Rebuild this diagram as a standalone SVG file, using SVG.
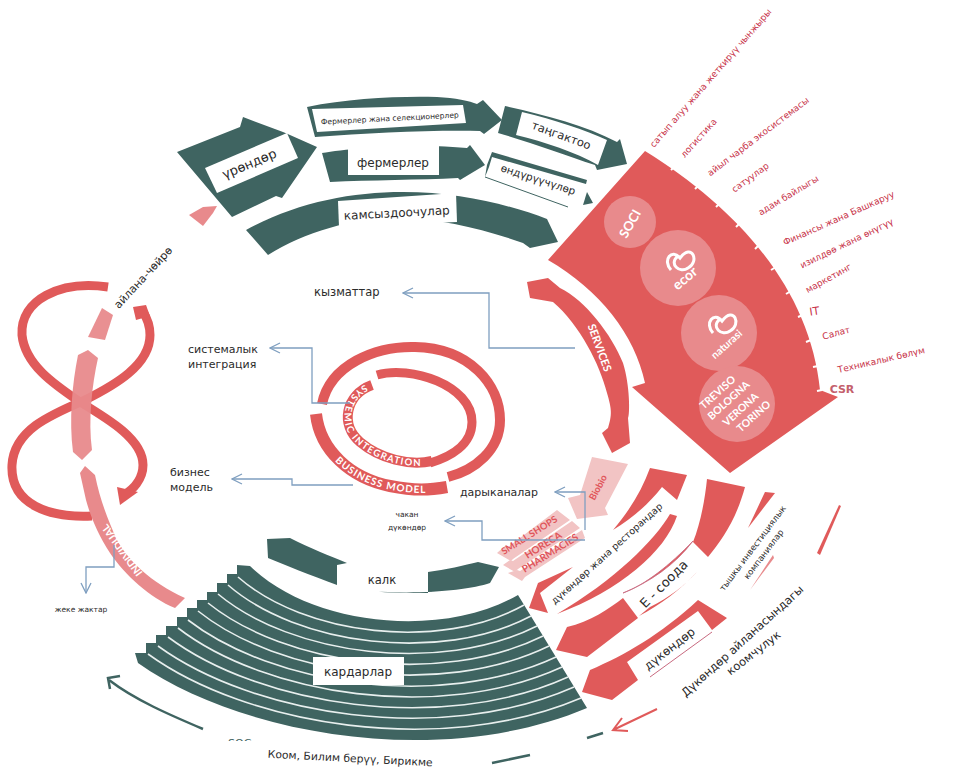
<svg xmlns="http://www.w3.org/2000/svg" width="956" height="774" viewBox="0 0 956 774">
<style>
text{font-family:"DejaVu Sans","Noto Sans",sans-serif;fill:#2b2b2b}
.d{fill:#3f6461}.r{fill:#e05a5a}.l{fill:#e88a8c}.p{fill:#f2c4c4}.w{fill:#fff}
.m{text-anchor:middle}
.rt{font-size:9px;fill:#c8344a;text-anchor:middle}
.wt{fill:#fff;font-family:"Lato","Liberation Sans",sans-serif;font-weight:700;text-anchor:middle}
.pt{fill:#e0555a;font-family:"Lato","Liberation Sans",sans-serif;font-weight:700;text-anchor:middle}
.bl{fill:none;stroke:#7f9fc0;stroke-width:1.3}
.sep{fill:none;stroke:#e8efee;stroke-width:1.6}
.ring{fill:none;stroke:#e05a5a}
.logo{fill:none;stroke:#fff;stroke-width:3}
</style>
<defs>
<marker id="oa" viewBox="0 0 12 12" refX="11" refY="6" markerWidth="12" markerHeight="12" markerUnits="userSpaceOnUse" orient="auto"><path d="M1,1 L11,6 L1,11" fill="none" stroke="#7f9fc0" stroke-width="1.3"/></marker>
</defs>
<rect width="956" height="774" fill="#fff"/>

<g id="node-seeds">
<path class="l" d="M189,215 L203,207 L217,206 L213,213 L203,226 Z"/>
<path class="d" d="M177,152 L240,127 L243,117 L283,132 L290,135 L317,147 L282,198 L276,196 L232,217 Z"/>
<path class="w" d="M205,168 L287,133 L298,158 L217,193 Z"/>
<text class="m" font-size="13" transform="translate(251,168) rotate(-23)">үрөндөр</text>
</g>
<g id="node-farmers-breeders">
<path class="d" d="M307,107 C350,98 400,96 437,97 C455,98 470,101 477,104 L483,100 L502,120 L484,134 L480,131 C430,130 370,133 315,137 Z"/>
<path class="w" d="M312,109 L463,105 L466,123 L317,132 Z"/>
<text class="m" font-size="7.6" transform="translate(390,121) rotate(-3)">Фермерлер жана селекционерлер</text>
</g>
<g id="node-packaging">
<path class="d" d="M505,106 C545,115 585,125 617,142 L620,139 L627,164 L597,170 L595,165 C565,155 530,142 498,133 Z"/>
<path class="w" d="M522,112 C555,120 585,130 607,140 L598,165 C575,152 545,142 516,135 Z"/>
<text class="m" font-size="11.5" transform="translate(560,139) rotate(20)">таңгактоо</text>
</g>
<g id="node-farmers">
<path class="d" d="M322,153 C350,148 420,143 467,148 L470,145 L485,165 L460,180 L458,178 C420,180 370,180 330,182 Z"/>
<rect class="w" x="348" y="146" width="91" height="29"/>
<text class="m" font-size="12" x="393" y="167">фермерлер</text>
</g>
<g id="node-producers">
<path class="w" d="M492,153 L585,181 L568,207 L485,177 Z"/>
<path d="M485,177 L568,207" stroke="#3f6461" stroke-width="1" fill="none"/>
<path class="d" d="M492,152 L587,180 L586,184 L492,157 L489,167 L485,177 L487,165 Z"/>
<path class="d" d="M587,192 L593,203 L583,205 Z"/>
<text class="m" font-size="10.5" transform="translate(537,183) rotate(18)">өндүрүүчүлөр</text>
</g>
<g id="node-suppliers">
<path class="d" d="M246,230 C295,203 350,192 403,192 C460,192 510,205 547,219 L558,242 L530,248 L523,243 C480,228 440,219 403,218 C350,218 305,232 268,255 Z"/>
<path class="w" d="M338,201 L456,193 L457,222 L339,227 Z"/>
<text class="m" font-size="12" transform="translate(397,217) rotate(-3)">камсыздоочулар</text>
</g>

<g id="node-fan">
<path class="r" d="M548,260 L645,151 C740,210 810,290 820,390 L838,397 L730,473 L632,387 L645,383 C635,335 600,290 548,260 Z"/>
<g stroke="#fff" stroke-width="2">
<path d="M671,170L675,166M695,189L699,185M716,207L720,203M736,227L740,223M755,249L759,245M771,270L776,267M786,294L791,291M798,317L803,315M806,342L811,340M813,367L818,366M817,391L822,390"/>
</g>
<circle class="l" cx="630" cy="222" r="26"/>
<circle class="l" cx="678" cy="268" r="38"/>
<circle class="l" cx="719" cy="333" r="38"/>
<circle class="l" cx="737" cy="404" r="38"/>
<text class="wt" font-size="13" transform="translate(634,226) rotate(-60)">SOCI</text>
<path class="logo" d="M671,270 C662,260 672,248 680,258 C692,242 700,262 688,268 C680,274 668,264 678,256" />
<text class="wt" font-size="14" transform="translate(688,282) rotate(-40)">ecor</text>
<path class="logo" d="M713,333 C704,323 714,311 722,321 C734,305 742,325 730,331 C722,337 710,327 720,319"/>
<text class="wt" font-size="10.5" transform="translate(729,347) rotate(-42)">naturasi</text>
<g class="wt" font-size="10.5">
<text class="wt" transform="translate(720,395) rotate(-42)">TREVISO</text>
<text class="wt" transform="translate(731,403) rotate(-42)">BOLOGNA</text>
<text class="wt" transform="translate(743,412) rotate(-42)">VERONA</text>
<text class="wt" transform="translate(756,419) rotate(-42)">TORINO</text>
</g>
</g>
<g id="node-fan-labels">
<text class="rt" transform="translate(713,80) rotate(-49)">сатып алуу жана жеткирүү чынжыры</text>
<text class="rt" transform="translate(701,140) rotate(-48)">логистика</text>
<text class="rt" transform="translate(760,139) rotate(-37)">айыл чарба экосистемасы</text>
<text class="rt" transform="translate(752,180) rotate(-36)">сатуулар</text>
<text class="rt" transform="translate(790,198) rotate(-31)">адам байлыгы</text>
<text class="rt" transform="translate(840,221) rotate(-24)">Финансы жана Башкаруу</text>
<text class="rt" transform="translate(848,246) rotate(-26)">изилдөө жана өнүгүү</text>
<text class="rt" transform="translate(830,281) rotate(-29)">маркетинг</text>
<text class="rt" style="font-size:11px" transform="translate(815,315) rotate(-8)">IT</text>
<text class="rt" transform="translate(837,336) rotate(-15)">Салат</text>
<text class="rt" transform="translate(882,363) rotate(-13)">Техникалык бөлүм</text>
<text class="rt" style="font-size:11px;fill:#c4606c;font-weight:700" x="842" y="393">CSR</text>
</g>

<g id="node-services">
<path class="r" d="M527,282 L548,278 L560,288 C585,300 612,335 623,363 C630,385 630,415 628,418 L630,443 L612,453 L602,433 L608,428 C612,415 612,410 607,393 C600,365 580,325 553,302 L530,298 Z"/>
<text class="wt" font-size="11" transform="translate(596,349) rotate(70)">SERVICES</text>
</g>

<g id="node-rings">
<path class="ring" stroke-width="10" d="M322,404 C330,365 375,346 415,347 C470,348 500,385 500,420 C500,450 475,470 448,477"/>
<path id="bm" class="ring" stroke-width="12" d="M316,414 C320,450 350,478 390,486 C415,491 430,490 447,487"/>
<path class="ring" stroke-width="9" d="M377,375 C410,365 472,385 472,422 C472,445 450,457 430,463"/>
<path id="si" class="ring" stroke-width="10" d="M372,385 C345,395 340,425 360,442 C380,459 410,466 432,461"/>
<text class="wt" font-size="9.5" dy="3.3" letter-spacing="1" style="text-anchor:start"><textPath href="#si" startOffset="6">SYSTEMIC INTEGRATION</textPath></text>
<text class="wt" font-size="10" dy="3.5" letter-spacing=".8" style="text-anchor:start"><textPath href="#bm" startOffset="50">BUSINESS MODEL</textPath></text>
</g>

<g id="node-channels">
<path class="p" d="M592,457 L628,464 L605,508 L608,515 L577,519 L568,498 L580,495 Z"/>
<text class="pt" font-size="9.5" transform="translate(601,489) rotate(-62)">Biobio</text>
<path class="p" d="M497,553 L506,545 L508,547 L557,510 L570,520 L513,559 L511,561 Z"/>
<path class="p" d="M503,565 L510,560 L513,561 L572,521 L580,528 L518,569 L515,572 Z"/>
<path class="p" d="M508,573 L517,570 L520,571 L582,530 L585,538 L525,577 L522,581 Z"/>
<text class="pt" font-size="9.5" transform="translate(531,538) rotate(-32)">SMALL SHOPS</text>
<text class="pt" font-size="10" transform="translate(545,548) rotate(-32)">HORECA</text>
<text class="pt" font-size="10" transform="translate(552,556) rotate(-32)">PHARMACIES</text>
</g>

<g id="node-shops-restaurants">
<path class="r" d="M650,468 L687,475 L677,500 L662,487 C648,505 630,520 613,530 C630,510 642,490 650,468 Z"/>
<path class="r" d="M670,514 C655,540 615,580 557,614 C620,590 665,552 677,516 Z"/>
<path class="r" d="M573,567 L538,583 L529,608 L548,613 L540,593 Z"/>
<text class="m" font-size="9.5" transform="translate(609,556) rotate(-42)">дүкөндөр жана ресторандар</text>
</g>
<g id="node-ecommerce">
<path class="r" d="M707,479 L745,487 C736,520 722,540 708,557 L693,542 C700,525 705,500 707,479 Z"/>
<path class="r" d="M697,572 C680,590 660,605 639,616 L650,607 C670,597 685,585 697,572 Z"/>
<path class="r" d="M623,598 L638,618 L587,657 L556,650 L567,627 C590,622 610,608 623,598 Z"/>
<path class="r" d="M693,541 C670,565 645,585 623,593 C650,582 675,565 693,541 Z" stroke="#c86a80" stroke-width=".8"/>
<text class="m" font-size="13" transform="translate(667,587) rotate(-45)">Е - соода</text>
</g>
<g id="node-shops">
<path class="r" d="M698,600 L727,618 L712,630 L698,611 L627,662 L638,680 L612,700 L582,692 L590,670 C625,655 660,635 698,600 Z"/>
<path d="M650,677 L712,632" stroke="#c86a80" stroke-width="1" fill="none"/>
<text class="m" font-size="12" transform="translate(672,652) rotate(-38)">дүкөндөр</text>
</g>
<g id="node-investors">
<path class="r" d="M765,492 L775,493 L748,528 Z"/>
<path class="l" d="M773,555 L750,590 L774,558 Z"/>
<path class="r" d="M839,505 L841,506 L820,555 L817,553 Z"/>
<text class="m" font-size="8.5" transform="translate(755,550) rotate(-53)">тышкы инвестициялык</text>
<text class="m" font-size="8.5" transform="translate(766,556) rotate(-53)">компаниялар</text>
</g>
<g id="node-community">
<text class="m" font-size="11.5" transform="translate(745,644) rotate(-42)">Дүкөндөр айланасындагы</text>
<text class="m" font-size="11.5" transform="translate(756,656) rotate(-38)">коомчулук</text>
</g>

<g id="node-people">
<path class="d" d="M267,539 L290,538 C310,548 330,556 347,563 L337,565 L337,585 C310,575 285,565 268,558 Z"/>
<path class="d" d="M370,591 C390,593 410,593 428,593 L428,572 C445,570 465,565 478,562 L499,567 L490,583 C470,590 420,595 370,591 Z"/>
<text class="m" font-size="11.5" x="382" y="584">калк</text>
</g>
<g id="node-customers">
<path class="d" d="M138,663 L135,653 L146,653 L146,643 L156,643 L156,635 L166,635 L166,626 L177,626 L177,617 L187,617 L187,608 L197,608 L197,600 L207,600 L207,592 L217,592 L217,583 L227,583 L227,574 L237,574 L237,565 L250,566 C310,625 440,640 518,595 L587,708 C440,770 240,735 138,663 Z"/>
<path class="sep" d="M238,577 C304,635 440,652 524,605M228,585 C297,645 440,664 531,616M218,594 C291,655 440,675 537,626M208,603 C285,665 440,687 543,636M198,611 C278,675 440,699 549,646M188,620 C272,685 440,711 556,657M178,628 C265,695 440,723 562,667M168,637 C259,705 440,735 568,677M158,646 C253,715 440,746 574,687M148,654 C246,725 440,758 581,698"/>
<rect class="w" x="313" y="657" width="91" height="28"/>
<text class="m" font-size="12" x="358" y="676">кардарлар</text>
</g>

<g id="node-knot">
<path d="M108,287 C60,280 20,300 22,335 C25,365 55,385 80,402 C110,420 143,440 143,465 C143,480 132,490 124,495" fill="none" stroke="#e05a5a" stroke-width="9"/>
<path class="r" d="M117,487 L138,492 L120,505 Z"/>
<path d="M92,516 C50,518 10,505 12,465 C14,430 50,415 85,400 C115,385 150,365 150,335 C150,325 147,318 143,312" fill="none" stroke="#e05a5a" stroke-width="9"/>
<path class="r" d="M133,307 L146,305 L150,316 L136,320 Z"/>
<path class="l" opacity=".95" d="M102,308 L113,315 L105,340 L88,337 Z"/>
<path class="l" opacity=".95" d="M88,350 L98,358 C92,385 88,420 92,450 L82,460 L73,452 C69,420 72,385 78,355 Z"/>
<path class="l" d="M85,466 L95,475 C100,500 108,520 117,540 C128,560 150,582 185,598 L175,608 C150,598 125,575 110,553 C98,535 90,515 86,500 L80,473 Z"/>
<text class="wt" font-size="10.5" transform="translate(125,548) rotate(-126)">INDIVIDUAL</text>
<text class="m" font-size="11" transform="translate(146,280) rotate(-47)">айлана-чөйрө</text>
</g>

<g id="node-society">
<path d="M203,729 C170,715 135,700 109,680" fill="none" stroke="#3f6461" stroke-width="2.5"/>
<path d="M120,676 L108,678 L110,689" fill="none" stroke="#3f6461" stroke-width="2.5"/>
<path d="M657,709 L613,730 M628,731 L613,730 L622,718" fill="none" stroke="#e05a5a" stroke-width="2"/>
<path d="M603,733 L587,738 M530,755 L492,763" fill="none" stroke="#3f6461" stroke-width="2.5"/>
<text x="228" y="747" font-size="11" style="fill:#3f6461">SOC</text>
<rect class="w" x="220" y="741" width="50" height="14"/>
<text class="m" font-size="10.8" transform="translate(350,762) rotate(3)">Коом, Билим берүү, Бирикме</text>
</g>

<g id="connectors">
<path class="bl" marker-end="url(#oa)" d="M575,348 L489,348 L489,293 L403,293"/>
<path class="bl" marker-end="url(#oa)" d="M350,403 L312,403 L312,348 L270,348"/>
<path class="bl" marker-end="url(#oa)" d="M353,485 L292,485 L292,479 L232,479"/>
<path class="bl" marker-end="url(#oa)" d="M585,530 L585,492 L555,492"/>
<path class="bl" marker-end="url(#oa)" d="M585,540 L482,540 L482,521 L445,521"/>
<path class="bl" marker-end="url(#oa)" d="M114,545 L114,567 L86,567 L86,593"/>
</g>
<g id="labels">
<text font-size="11.5" x="314" y="296">кызматтар</text>
<text font-size="11" x="188" y="353">системалык</text>
<text font-size="11" x="188" y="368">интеграция</text>
<text font-size="11" x="170" y="476">бизнес</text>
<text font-size="11" x="170" y="491">модель</text>
<text font-size="11" x="460" y="496">дарыканалар</text>
<text class="m" font-size="7.5" x="407" y="517">чакан</text>
<text class="m" font-size="7.5" x="407" y="530">дүкөндөр</text>
<text class="m" font-size="7.5" x="81" y="612">жеке жактар</text>
</g>
</svg>
